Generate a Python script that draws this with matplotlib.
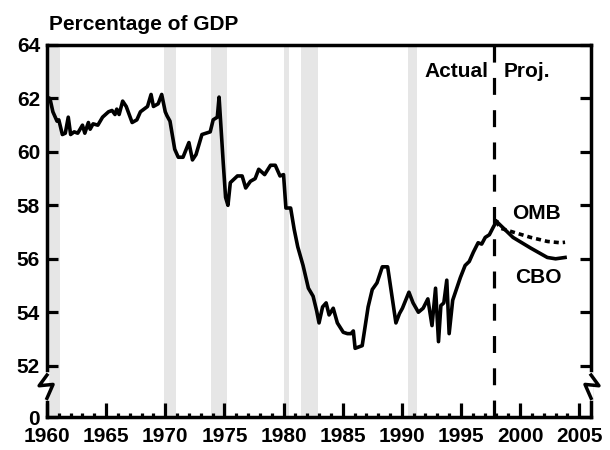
"""
federal receipts share of GDP, actual vs CBO / OMB projections
"""
import numpy as np
import matplotlib
matplotlib.use('Agg')
from matplotlib import pyplot as plt
from matplotlib import transforms
from matplotlib.lines import Line2D

plt.rcParams['font.family'] = ['Liberation Sans', 'DejaVu Sans']
plt.rcParams['font.weight'] = 'bold'

# data
actual_years = [1960.0, 1960.25, 1960.5, 1960.85, 1961.0, 1961.3, 1961.55, 1961.8, 1962.0, 1962.3,
                1962.6, 1963.0, 1963.2, 1963.5, 1963.65, 1963.9, 1964.3, 1964.7, 1965.2, 1965.5,
                1965.75, 1965.9, 1966.1, 1966.4, 1966.7, 1967.2, 1967.6, 1967.9, 1968.2, 1968.5,
                1968.8, 1969.0, 1969.4, 1969.7, 1970.0, 1970.15, 1970.4, 1970.8, 1971.1, 1971.5,
                1972.0, 1972.3, 1972.6, 1973.1, 1973.8, 1974.05, 1974.4, 1974.55, 1974.9, 1975.1,
                1975.3, 1975.5, 1976.1, 1976.5, 1976.8, 1977.2, 1977.6, 1977.9, 1978.4, 1978.9,
                1979.3, 1979.7, 1980.0, 1980.2, 1980.6, 1980.9, 1981.2, 1981.65, 1982.1, 1982.5,
                1982.8, 1983.0, 1983.3, 1983.6, 1983.85, 1984.2, 1984.55, 1985.05, 1985.4, 1985.7,
                1985.9, 1986.05, 1986.65, 1987.15, 1987.5, 1987.9, 1988.35, 1988.8, 1989.5, 1989.8,
                1990.05, 1990.6, 1990.95, 1991.4, 1991.8, 1992.2, 1992.55, 1992.85, 1993.1, 1993.3,
                1993.55, 1993.8, 1994.0, 1994.3, 1994.95, 1995.35, 1995.7, 1996.05, 1996.45, 1996.75,
                1997.05, 1997.4, 1997.75, 1998.0]
actual_vals = [62.05, 62.0, 61.5, 61.15, 61.2, 60.65, 60.7, 61.3, 60.65, 60.75,
               60.7, 61.0, 60.7, 61.1, 60.85, 61.05, 61.0, 61.3, 61.5, 61.55,
               61.4, 61.6, 61.4, 61.9, 61.7, 61.1, 61.2, 61.5, 61.6, 61.7,
               62.15, 61.7, 61.8, 62.15, 61.5, 61.35, 61.15, 60.1, 59.8, 59.8,
               60.35, 59.7, 59.9, 60.65, 60.75, 61.2, 61.3, 62.05, 59.6, 58.3,
               58.0, 58.85, 59.1, 59.1, 58.65, 58.9, 59.0, 59.35, 59.15, 59.5,
               59.5, 59.1, 59.15, 57.9, 57.9, 57.1, 56.45, 55.75, 54.9, 54.6,
               54.05, 53.6, 54.2, 54.35, 53.9, 54.15, 53.6, 53.25, 53.2, 53.2,
               53.3, 52.65, 52.75, 54.2, 54.85, 55.1, 55.7, 55.7, 53.6, 53.95,
               54.15, 54.75, 54.35, 54.0, 54.15, 54.5, 53.5, 54.9, 52.9, 54.25,
               54.35, 55.2, 53.2, 54.45, 55.3, 55.75, 55.9, 56.25, 56.6, 56.55,
               56.8, 56.9, 57.2, 57.4]

cbo_years = [1998.0, 1999.4, 2000.9, 2002.3, 2003.0, 2003.8]
cbo_vals = [57.4, 56.8, 56.4, 56.05, 56.0, 56.05]
omb_years = [1998.0, 1998.3, 1999.4, 2000.9, 2002.3, 2003.4, 2003.8]
omb_vals = [57.4, 57.15, 57.0, 56.8, 56.65, 56.6, 56.62]

recessions = [(1960.2, 1961.1), (1969.9, 1970.95), (1973.85, 1975.2), (1980.0, 1980.5),
              (1981.5, 1982.9), (1990.55, 1991.3)]
proj_start = 1997.75

y_bottom = 50.08  # stands for 0 below the axis break
y_ticks = [y_bottom, 52, 54, 56, 58, 60, 62, 64]
y_ticklabels = ['0', '52', '54', '56', '58', '60', '62', '64']
x_ticks = list(range(1960, 2006, 5))

fig = plt.figure(figsize=(6.1, 4.5), dpi=100)
ax = fig.add_axes([0.077, 0.0733, 0.892, 0.8267])

for start, end in recessions:
    ax.axvspan(start, end, color='#e6e6e6', lw=0, zorder=0)

ax.plot(actual_years, actual_vals, color='black', lw=2.6, solid_joinstyle='round', zorder=3)
ax.plot(cbo_years, cbo_vals, color='black', lw=2.6, zorder=3)
ax.plot(omb_years, omb_vals, color='black', lw=2.6, linestyle=(0, (1.4, 1.1)), zorder=3)
ax.axvline(proj_start, color='black', lw=2.3, linestyle=(0, (5.3, 4.8)), zorder=2)

ax.text(1997.35, 63.0, 'Actual', ha='right', va='center', fontsize=15)
ax.text(1998.6, 63.0, 'Proj.', ha='left', va='center', fontsize=15)
ax.text(1999.35, 57.7, 'OMB', ha='left', va='center', fontsize=15)
ax.text(1999.55, 55.3, 'CBO', ha='left', va='center', fontsize=15)

ax.set_xlim(1960, 2006)
ax.set_ylim(y_bottom, 64)
ax.set_xticks(x_ticks)
ax.set_xticks(np.arange(1960, 2006, 1), minor=True)
ax.set_yticks(y_ticks)
ax.set_yticklabels(y_ticklabels)
ax.tick_params(axis='x', which='major', direction='in', length=10, width=2.3, labelsize=15, pad=7)
ax.tick_params(axis='x', which='minor', direction='in', length=3, width=2.3)
ax.tick_params(axis='y', which='major', direction='in', length=8, width=2.3, labelsize=15, pad=5,
               right=True)
for spine in ax.spines.values():
    spine.set_linewidth(2.5)

# axis break marks on both side spines
brk = 51.2
trans = transforms.blended_transform_factory(ax.transAxes, ax.transData)
for x0, sgn in [(0.0, -1), (1.0, 1)]:
    fig.add_artist(Line2D([x0, x0], [brk - 0.42, brk + 0.45], transform=trans,
                          color='white', lw=4, clip_on=False, zorder=4))
    dx = 0.016 * sgn
    fig.add_artist(Line2D([x0, x0 + dx * 0.9, x0 - dx * 0.7, x0],
                          [brk + 0.45, brk + 0.05, brk + 0.1, brk - 0.42], transform=trans,
                          color='black', lw=2.5, clip_on=False, zorder=5))

fig.text(49 / 610, 1 - 24 / 450, 'Percentage of GDP', ha='left', va='center', fontsize=15)

plt.savefig('out.png', dpi=100)
